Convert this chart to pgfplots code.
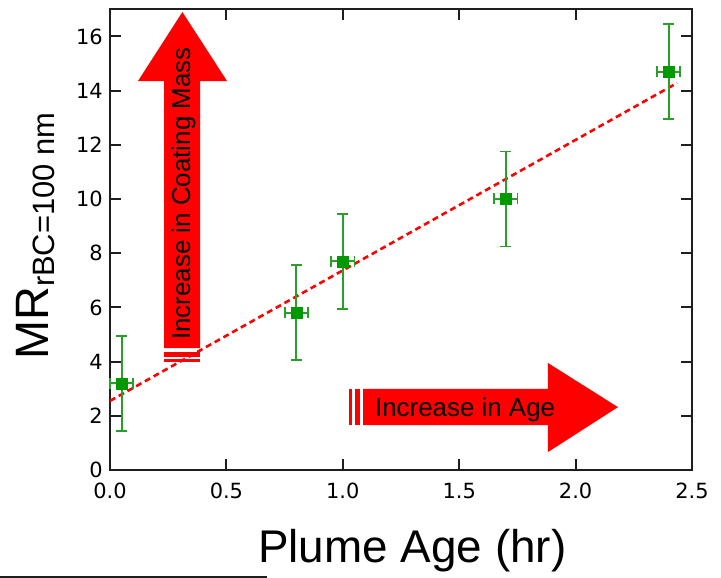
\documentclass[border=0pt]{standalone}
\usepackage{fontspec}
\setmainfont{Liberation Sans}
\newfontfamily\dejavu{DejaVu Sans}
\usepackage{pgfplots}
\pgfplotsset{compat=1.18}
\usepackage{pgfplotstable}

\pgfplotstableread{
x y ex ey
0.05 3.2 0.05 1.75
0.8 5.8 0.05 1.75
1.0 7.7 0.05 1.75
1.7 10.0 0.05 1.75
2.4 14.7 0.05 1.75
}\datatable

\definecolor{mkgreen}{RGB}{0,153,0}
\definecolor{ebgreen}{RGB}{40,160,40}
\definecolor{arrowred}{RGB}{255,0,0}
\definecolor{framecol}{RGB}{30,30,30}

\begin{document}
\begin{tikzpicture}
\path[use as bounding box] (-110bp,-108bp) rectangle (611bp,470bp);
\begin{axis}[
  scale only axis, width=582bp, height=460.7bp,
  xmin=0, xmax=2.5, ymin=0, ymax=17,
  xtick={0,0.5,1,1.5,2,2.5},
  xticklabels={0.0,0.5,1.0,1.5,2.0,2.5},
  ytick={0,2,4,6,8,10,12,14,16},
  tick align=inside, xtick pos=both, ytick pos=both,
  major tick length=11bp,
  axis line style={line width=2bp, framecol},
  every tick/.style={line width=2bp, framecol},
  ticklabel style={font=\dejavu\fontsize{21}{25}\selectfont, inner sep=0pt},
  xticklabel style={yshift=-13bp},
  yticklabel style={xshift=-7bp},
  /pgf/number format/assume math mode=true,
  clip=false,
]
% vertical arrow
\fill[arrowred] (axis cs:0.232,4.50) -- (axis cs:0.232,14.35) -- (axis cs:0.120,14.35) -- (axis cs:0.311,16.90) -- (axis cs:0.503,14.35) -- (axis cs:0.387,14.35) -- (axis cs:0.387,4.50) -- cycle;
\fill[arrowred] (axis cs:0.232,4.35) rectangle (axis cs:0.387,4.17);
\fill[arrowred] (axis cs:0.232,4.10) rectangle (axis cs:0.387,3.99);
\node[rotate=90, anchor=base west, inner sep=0pt, font=\fontsize{26}{30}\selectfont] at (axis cs:0.344,4.80) {Increase in Coating Mass};
% horizontal arrow
\fill[arrowred] (axis cs:1.087,2.99) -- (axis cs:1.881,2.99) -- (axis cs:1.881,3.95) -- (axis cs:2.182,2.32) -- (axis cs:1.881,0.66) -- (axis cs:1.881,1.66) -- (axis cs:1.087,1.66) -- cycle;
\fill[arrowred] (axis cs:1.027,2.99) rectangle (axis cs:1.040,1.66);
\fill[arrowred] (axis cs:1.052,2.99) rectangle (axis cs:1.074,1.66);
\node[anchor=base west, inner sep=0pt, font=\fontsize{26}{30}\selectfont] at (axis cs:1.138,1.96) {Increase in Age};

\addplot[arrowred, line width=2.6bp, dash pattern=on 6bp off 4bp, forget plot] coordinates {(0,2.55) (2.436,14.28)};
\addplot[only marks, mark=square*, mark size=5.5bp, mkgreen,
  error bars/.cd, x dir=both, x explicit, y dir=both, y explicit,
  error bar style={ebgreen, line width=1.8bp},
  error mark options={rotate=90, ebgreen, line width=1.8bp, mark size=5.5bp}]
  table[x=x, y=y, x error=ex, y error=ey] {\datatable};
\end{axis}
\node[rotate=90, anchor=base west, inner sep=0pt] at (-61bp,110bp) {\fontsize{47}{50}\selectfont MR\raisebox{-6bp}{\fontsize{31}{34}\selectfont rBC=100 nm}};
\node[anchor=base west, inner sep=0pt, font=\fontsize{46}{50}\selectfont] at (148bp,-92bp) {Plume Age (hr)};
\draw[line width=2bp, color=framecol] (-110bp,-107bp) -- (157bp,-107bp);
\end{tikzpicture}
\end{document}
